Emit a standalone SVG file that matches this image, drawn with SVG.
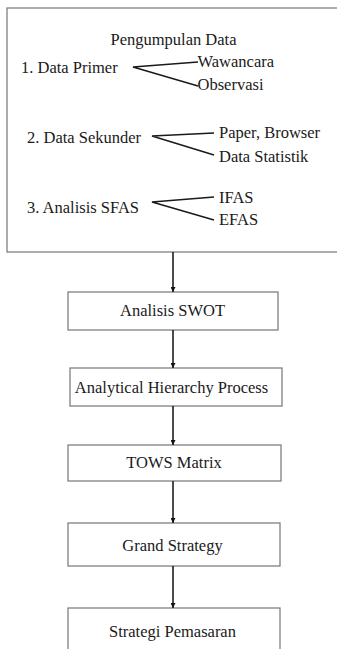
<svg xmlns="http://www.w3.org/2000/svg" width="337" height="649" viewBox="0 0 337 649">
<defs>
<style>
text{font-family:"Liberation Serif",serif;font-size:16.5px;fill:#1a1a1a}
.c{text-anchor:middle}
.box{fill:#fff;stroke:#808080;stroke-width:1.3}
.br{fill:none;stroke:#1a1a1a;stroke-width:1.5}
.ar{fill:none;stroke:#111;stroke-width:1.5}
</style>
<marker id="ah" viewBox="0 0 8 8" refX="8" refY="4" markerWidth="5" markerHeight="5" orient="auto" markerUnits="userSpaceOnUse">
<path d="M0,0 L8,4 L0,8 z" fill="#111"/>
</marker>
</defs>
<rect width="337" height="649" fill="#fff"/>
<g font-family="'Liberation Serif', serif">
<g id="pengumpulan">
<rect class="box" x="7" y="8" width="340" height="244"/>
<text class="c" x="173.5" y="45">Pengumpulan Data</text>
<text x="21" y="73">1. Data Primer</text>
<text x="197.5" y="67">Wawancara</text>
<text x="197.5" y="90">Observasi</text>
<path class="br" d="M198,62 L133,67 L198,86"/>
<text x="27" y="143">2. Data Sekunder</text>
<text x="219" y="138">Paper, Browser</text>
<text x="219" y="161.5">Data Statistik</text>
<path class="br" d="M214,133 L152,136 L214,155"/>
<text x="27" y="213">3. Analisis SFAS</text>
<text x="219" y="203">IFAS</text>
<text x="219" y="225">EFAS</text>
<path class="br" d="M214,197 L152,202 L214,220"/>
</g>
<g id="swot">
<rect class="box" x="68" y="292" width="210" height="38"/>
<text class="c" x="172.5" y="316">Analisis SWOT</text>
</g>
<g id="ahp">
<rect class="box" x="70" y="368" width="212" height="38"/>
<text class="c" x="171.5" y="393">Analytical Hierarchy Process</text>
</g>
<g id="tows">
<rect class="box" x="68" y="445" width="213" height="36"/>
<text class="c" x="174" y="467.5">TOWS Matrix</text>
</g>
<g id="grand">
<rect class="box" x="68" y="523" width="212" height="43"/>
<text class="c" x="172.5" y="551">Grand Strategy</text>
</g>
<g id="strategi">
<rect class="box" x="68" y="608" width="212" height="50"/>
<text class="c" x="172.5" y="637">Strategi Pemasaran</text>
</g>
</g>
<g id="connectors">
<line class="ar" x1="173" y1="252" x2="173" y2="292" marker-end="url(#ah)"/>
<line class="ar" x1="173" y1="330" x2="173" y2="368" marker-end="url(#ah)"/>
<line class="ar" x1="173" y1="406" x2="173" y2="445" marker-end="url(#ah)"/>
<line class="ar" x1="173" y1="481" x2="173" y2="523" marker-end="url(#ah)"/>
<line class="ar" x1="173" y1="566" x2="173" y2="608" marker-end="url(#ah)"/>
</g>
</svg>
